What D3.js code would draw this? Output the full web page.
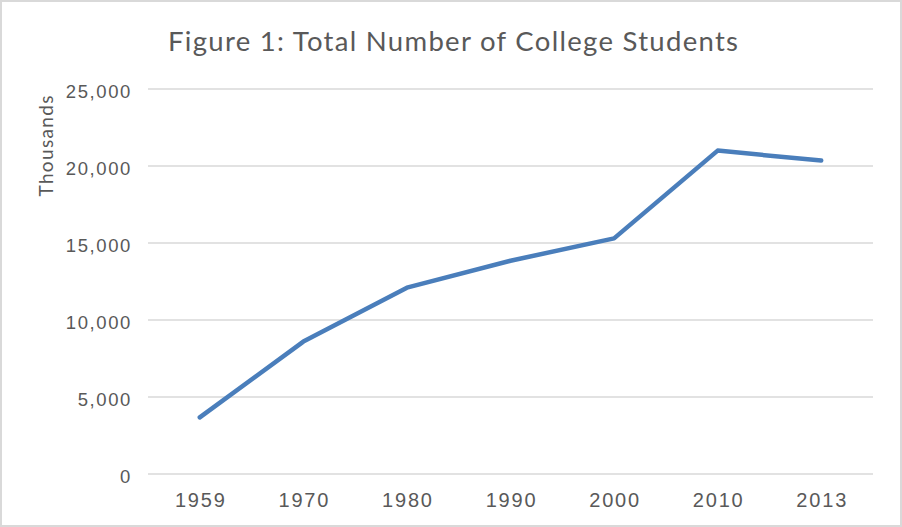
<!DOCTYPE html>
<html>
<head>
  <meta charset='utf-8'>
  <title>Total Number of College Students</title>
  <script src="https://cdn.jsdelivr.net/npm/d3@7"></script>
  <style>
    html, body {
      margin: 0;
      padding: 0;
      background: #fff;
    }
    svg {
      display: block;
      font-family: 'Lato', 'Open Sans', sans-serif;
    }
  </style>
</head>
<body>
<script>
// data (thousands of students)
var years = ['1959', '1970', '1980', '1990', '2000', '2010', '2013'];
var students = [3680, 8600, 12100, 13850, 15300, 21000, 20350];
var yTicks = [0, 5000, 10000, 15000, 20000, 25000];

var width = 902, height = 527;
var margin = {top: 89, right: 29, bottom: 53, left: 148};

var svg = d3.select('body').append('svg')
    .attr('width', width)
    .attr('height', height);

// outer chart border
svg.append('rect')
    .attr('x', 1).attr('y', 1)
    .attr('width', width - 2).attr('height', height - 2)
    .attr('fill', '#fff')
    .attr('stroke', '#d9d9d9')
    .attr('stroke-width', 2);

var x = d3.scaleBand()
    .domain(years)
    .range([margin.left, width - margin.right]);

var y = d3.scaleLinear()
    .domain([0, 25000])
    .range([height - margin.bottom, margin.top]);

// gridlines
svg.append('g')
    .selectAll('line')
    .data(yTicks)
    .enter().append('line')
    .attr('x1', margin.left)
    .attr('x2', width - margin.right)
    .attr('y1', d => y(d))
    .attr('y2', d => y(d))
    .attr('stroke', '#d9d9d9')
    .attr('stroke-width', 1.5);

// y axis labels
var yAxis = svg.append('g')
    .attr('transform', 'translate(' + (margin.left - 6) + ',0)')
    .call(d3.axisLeft(y).tickValues(yTicks).tickFormat(d3.format(',')).tickSize(0).tickPadding(10));
yAxis.select('.domain').remove();
yAxis.selectAll('text')
    .attr('fill', '#595959')
    .attr('dy', '0.45em')
    .style('font-size', '18.5px')
    .style('letter-spacing', '1.6px');

// x axis labels
var xAxis = svg.append('g')
    .attr('transform', 'translate(0,' + (height - margin.bottom) + ')')
    .call(d3.axisBottom(x).tickSize(0).tickPadding(19));
xAxis.select('.domain').remove();
xAxis.selectAll('text')
    .attr('fill', '#595959')
    .attr('dx', '1px')
    .style('font-size', '20px')
    .style('letter-spacing', '1.8px');

// line
var line = d3.line()
    .x((d, i) => x(years[i]) + x.bandwidth() / 2)
    .y(d => y(d));

svg.append('path')
    .datum(students)
    .attr('d', line)
    .attr('fill', 'none')
    .attr('stroke', '#4a7ebb')
    .attr('stroke-width', 4.5)
    .attr('stroke-linecap', 'round')
    .attr('stroke-linejoin', 'round');

// title
svg.append('text')
    .attr('x', 453)
    .attr('y', 51)
    .attr('text-anchor', 'middle')
    .attr('fill', '#595959')
    .attr('textLength', 570)
    .style('font-size', '27.5px')
    .text('Figure 1: Total Number of College Students');

// y axis title
svg.append('text')
    .attr('transform', 'translate(53,146) rotate(-90)')
    .attr('text-anchor', 'middle')
    .attr('fill', '#595959')
    .attr('textLength', 101)
    .style('font-size', '19px')
    .text('Thousands');
</script>
</body>
</html>
